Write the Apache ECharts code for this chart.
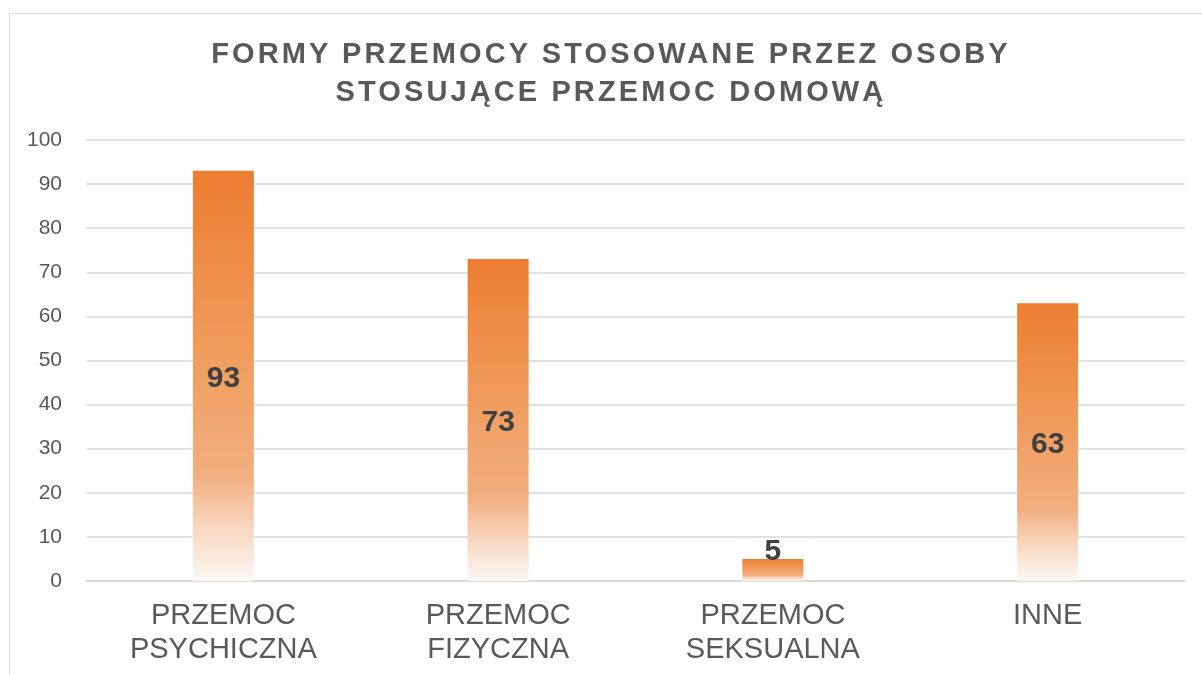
<!DOCTYPE html>
<html>
<head>
<meta charset="utf-8">
<title>Formy przemocy</title>
<script src="https://cdn.jsdelivr.net/npm/echarts@6/dist/echarts.min.js"></script>
<style>
  html, body { margin: 0; padding: 0; background: #fff; overflow: hidden; }
  .wrap { position: relative; width: 1202px; height: 675px; }
  .frame {
    position: absolute; left: 9px; top: 13px; width: 1204px; height: 720px;
    border: 1px solid #d9d9d9; box-sizing: border-box;
  }
  .title {
    position: absolute; left: 0; top: 34px; width: 1222px; text-align: center;
    font-family: "Liberation Sans", Arial, sans-serif; font-weight: bold;
    font-size: 29px; line-height: 38px; letter-spacing: 3.1px; color: #595959;
  }
  .main { position: absolute; left: 0; top: 0; width: 1202px; height: 675px; }
</style>
</head>
<body>
<div class="wrap">
  <div class="frame"></div>
  <div class="main"></div>
  <div class="title">FORMY PRZEMOCY STOSOWANE PRZEZ OSOBY<br>STOSUJĄCE PRZEMOC DOMOWĄ</div>
</div>
<script>
var categories = ['PRZEMOC\nPSYCHICZNA', 'PRZEMOC\nFIZYCZNA', 'PRZEMOC\nSEKSUALNA', 'INNE']
var values = [93, 73, 5, 63]
var yTicks = { min: 0, max: 100, interval: 10 }

var font = '"Liberation Sans", Arial, sans-serif'

// Excel-like gradient, fading to white at the bottom of each bar
var barColor = new echarts.graphic.LinearGradient(0, 0, 0, 1, [
  { offset: 0, color: '#ED7D31' },
  { offset: 0.5, color: '#F0A064' },
  { offset: 0.74, color: '#F2AE7F' },
  { offset: 0.86, color: '#F8D4BB' },
  { offset: 1, color: '#FDF8F5' }
])

var myChart = echarts.init(document.querySelector('.main'))
myChart.setOption({
  animation: false,
  backgroundColor: 'transparent',
  grid: { left: 86, right: 17, top: 140, bottom: 94 },
  xAxis: {
    type: 'category',
    data: categories,
    axisLine: { show: true, lineStyle: { color: '#d9d9d9', width: 1.5 } },
    axisTick: { show: false },
    axisLabel: {
      color: '#595959', fontFamily: font, fontSize: 29, lineHeight: 34, margin: 18
    }
  },
  yAxis: {
    type: 'value',
    min: yTicks.min,
    max: yTicks.max,
    interval: yTicks.interval,
    axisLine: { show: false },
    axisTick: { show: false },
    splitLine: { lineStyle: { color: '#d9d9d9', width: 1.5 } },
    axisLabel: { color: '#595959', fontFamily: font, fontSize: 21, margin: 24 }
  },
  series: [{
    type: 'bar',
    barWidth: 61,
    data: values.map(function(v) {
      var item = { value: v }
      // the short bar gets its label just above, like in the source
      if (v < 10) item.label = { position: 'top', distance: -8, offset: [0, 0] }
      return item
    }),
    itemStyle: { color: barColor },
    label: {
      show: true,
      position: 'inside',
      offset: [0, 3],
      color: '#404040',
      fontFamily: font,
      fontWeight: 'bold',
      fontSize: 30
    }
  }]
})
window.addEventListener('resize', function() {
  myChart.resize()
})
</script>
</body>
</html>
